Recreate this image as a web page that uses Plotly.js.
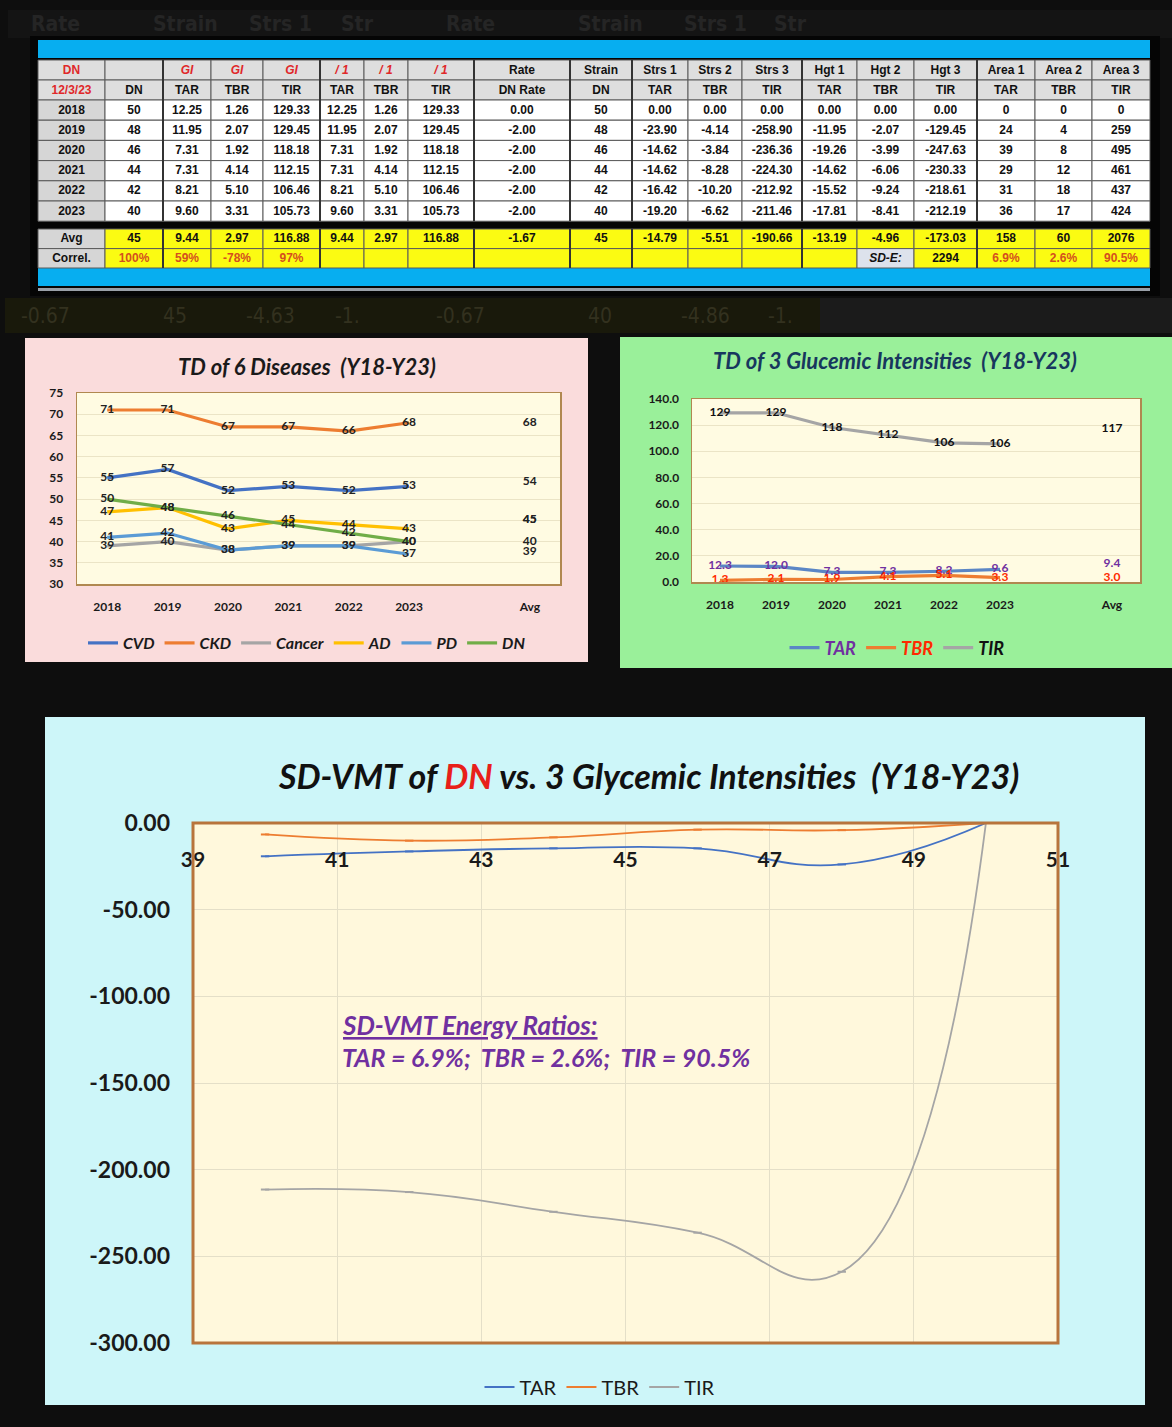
<!DOCTYPE html>
<html>
<head>
<meta charset="utf-8">
<script src="https://cdn.plot.ly/plotly-3.0.1.min.js"></script>
<style>
  html, body { margin: 0; padding: 0; background: #0e0e0e; }
  #chart { width: 1172px; height: 1427px; }
</style>
</head>
<body>
<div id="chart"></div>
<script>
// ---------------- DATA ----------------
const years   = ['2018', '2019', '2020', '2021', '2022', '2023'];
const dnVals  = [50, 48, 46, 44, 42, 40];
const giTAR   = [12.25, 11.95, 7.31, 7.31, 8.21, 9.60];
const giTBR   = [1.26, 2.07, 1.92, 4.14, 5.10, 3.31];
const giTIR   = [129.33, 129.45, 118.18, 112.15, 106.46, 105.73];
const dnRate  = [0.00, -2.00, -2.00, -2.00, -2.00, -2.00];
const strs1   = [0.00, -23.90, -14.62, -14.62, -16.42, -19.20];
const strs2   = [0.00, -4.14, -3.84, -8.28, -10.20, -6.62];
const strs3   = [0.00, -258.90, -236.36, -224.30, -212.92, -211.46];
const hgt1    = [0.00, -11.95, -19.26, -14.62, -15.52, -17.81];
const hgt2    = [0.00, -2.07, -3.99, -6.06, -9.24, -8.41];
const hgt3    = [0.00, -129.45, -247.63, -230.33, -218.61, -212.19];
const area1   = [0, 24, 39, 29, 31, 36];
const area2   = [0, 4, 8, 12, 18, 17];
const area3   = [0, 259, 495, 461, 437, 424];

const headRow1 = ['DN', '', 'GI', 'GI', 'GI', '/ 1', '/ 1', '/ 1', 'Rate', 'Strain', 'Strs 1', 'Strs 2', 'Strs 3', 'Hgt 1', 'Hgt 2', 'Hgt 3', 'Area 1', 'Area 2', 'Area 3'];
const headRow2 = ['12/3/23', 'DN', 'TAR', 'TBR', 'TIR', 'TAR', 'TBR', 'TIR', 'DN Rate', 'DN', 'TAR', 'TBR', 'TIR', 'TAR', 'TBR', 'TIR', 'TAR', 'TBR', 'TIR'];
const avgRow   = ['Avg', '45', '9.44', '2.97', '116.88', '9.44', '2.97', '116.88', '-1.67', '45', '-14.79', '-5.51', '-190.66', '-13.19', '-4.96', '-173.03', '158', '60', '2076'];
const correlRow = ['Correl.', '100%', '59%', '-78%', '97%', '', '', '', '', '', '', '', '', '', 'SD-E:', '2294', '6.9%', '2.6%', '90.5%'];

// Six diseases (TD chart)
const diseaseNames = ['CVD', 'CKD', 'Cancer', 'AD', 'PD', 'DN'];
const cvd    = [55, 57, 52, 53, 52, 53];
const ckd    = [71, 71, 67, 67, 66, 68];
const cancer = [39, 40, 38, 39, 39, 40];
const ad     = [47, 48, 43, 45, 44, 43];
const pd     = [41, 42, 38, 39, 39, 37];
const dnDis  = [50, 48, 46, 44, 42, 40];
const diseaseAvg = [54, 68, 40, 45, 39, 45];

// Glycemic intensities
const glyNames = ['TAR', 'TBR', 'TIR'];
const glyAvg   = [9.44, 2.97, 116.88];

// Energy ratios
const energyRatios = ['6.9%', '2.6%', '90.5%'];

// Bottom chart y tick labels
const vmtYTicks = [0, -50, -100, -150, -200, -250, -300];

// ghost (background screen) labels
const ghostTop = ['Rate', 'Strain', 'Strs 1', 'Str', 'Rate', 'Strain', 'Strs 1', 'Str'];
const ghostMid = ['-0.67', '45', '-4.63', '-1.', '-0.67', '40', '-4.86', '-1.'];

// ---------------- HELPERS ----------------
const W = 1172, H = 1427;
const X = p => p / W;
const Y = p => 1 - p / H;
const CHART_FONT = 'Lato, "Open Sans", sans-serif';
const TABLE_FONT = '"Liberation Sans", Arial, sans-serif';
const GHOST_FONT = '"DejaVu Sans Condensed", "Liberation Sans", sans-serif';

const f2 = v => v.toFixed(2);
const str = v => String(v);
const r1 = v => (Math.round(v * 10 + 1e-9) / 10).toFixed(1);

const traces = [];
const shapes = [];
const ann = [];

const rect = (x0, y0, x1, y1, color) => ({
  type: 'rect', xref: 'paper', yref: 'paper', layer: 'below',
  x0: X(x0), x1: X(x1), y0: Y(y1), y1: Y(y0),
  fillcolor: color, line: { width: 0 }
});

// background / panels
shapes.push(rect(8, 10, 1172, 38, '#141414'));
shapes.push(rect(30, 36, 1160, 296, '#050505'));
shapes.push(rect(38, 40, 1150, 58, '#07aef0'));
shapes.push(rect(38, 268, 1150, 286, '#07aef0'));
shapes.push(rect(38, 288, 1150, 291, '#9aa0a8'));
shapes.push(rect(5, 298, 820, 333, '#19190b'));
shapes.push(rect(820, 298, 1172, 333, '#1b1b1b'));
shapes.push(rect(25, 338, 588, 662, '#fadcdc'));
shapes.push(rect(620, 337, 1172, 668, '#9af09a'));
shapes.push(rect(45, 717, 1145, 1405, '#cdf6f9'));
// plot-area fills
shapes.push(rect(77, 393, 560, 584, '#fffbe2'));
shapes.push(rect(692, 399, 1140, 582, '#fffbe2'));
shapes.push(rect(193, 823, 1058, 1343, '#fff8dc'));

// ---------------- TABLE (drawn on a hidden pixel-scaled axis pair x4/y4) ----------------
const colW = [67, 58, 48, 52, 57, 44, 44, 66, 96, 62, 56, 54, 60, 55, 57, 63, 58, 57, 58];
const colEdges = [38];
colW.forEach(w => colEdges.push(colEdges[colEdges.length - 1] + w));
const rowTop = [60, 80, 100, 120.2, 140.4, 160.6, 180.8, 201, 229, 248.6];
const rowBot = [80, 100, 120.2, 140.4, 160.6, 180.8, 201, 221.2, 248.6, 268];

const dataRows = years.map((yr, i) => [
  yr, str(dnVals[i]), f2(giTAR[i]), f2(giTBR[i]), f2(giTIR[i]),
  f2(giTAR[i]), f2(giTBR[i]), f2(giTIR[i]), f2(dnRate[i]), str(dnVals[i]),
  f2(strs1[i]), f2(strs2[i]), f2(strs3[i]), f2(hgt1[i]), f2(hgt2[i]), f2(hgt3[i]),
  str(area1[i]), str(area2[i]), str(area3[i])
]);
const allRows = [headRow1, headRow2].concat(dataRows, [avgRow, correlRow]);

const RED = '#e0282a', ORG = '#d4501e', YEL = '#fbfb12', GRY = '#d6d6d6', HGR = '#dedede';
function cellFill(r, c) {
  if (r <= 1) return HGR;
  if (c === 0) return GRY;
  if (r <= 7) return '#ffffff';
  if (r === 9 && correlRow[c] === 'SD-E:') return '#dde2ec';
  return YEL;
}
function cellColor(r, c) {
  if (r === 0 && (c === 0 || (c >= 2 && c <= 7))) return RED;
  if (r === 1 && c === 0) return RED;
  if (r === 9 && ((c >= 1 && c <= 4) || c >= 16)) return ORG;
  return '#111111';
}
function cellText(r, c) {
  const t = allRows[r][c];
  if (t === '') return '';
  const it = (r === 0 && c >= 2 && c <= 7) || (r === 9 && t === 'SD-E:');
  return it ? '<i><b>' + t + '</b></i>' : '<b>' + t + '</b>';
}
const tX = [], tY = [], tT = [], tC = [];
allRows.forEach((row, r) => {
  row.forEach((v, c) => {
    shapes.push({
      type: 'rect', xref: 'x4', yref: 'y4', layer: 'below',
      x0: colEdges[c], x1: colEdges[c + 1], y0: rowTop[r], y1: rowBot[r],
      fillcolor: cellFill(r, c), line: { color: '#5a5a5a', width: 1 }
    });
    if (v !== '') {
      tX.push((colEdges[c] + colEdges[c + 1]) / 2);
      tY.push((rowTop[r] + rowBot[r]) / 2 + 0.5);
      tT.push(cellText(r, c));
      tC.push(cellColor(r, c));
    }
  });
});
// thicker group separators
[1, 4, 7, 8, 9, 12, 15].forEach(c => {
  [[60, 221.2], [229, 268]].forEach(([a, b]) => shapes.push({
    type: 'line', xref: 'x4', yref: 'y4', layer: 'below',
    x0: colEdges[c + 1], x1: colEdges[c + 1], y0: a, y1: b,
    line: { color: '#333', width: 2 }
  }));
});
traces.push({
  type: 'scatter', mode: 'text', xaxis: 'x4', yaxis: 'y4', showlegend: false,
  x: tX, y: tY, text: tT, textposition: 'middle center',
  textfont: { family: TABLE_FONT, size: 12, color: tC },
  hoverinfo: 'skip'
});

// ---------------- LEFT CHART: 6 diseases ----------------
const xIdx = years.map((y, i) => i);
const avgIdx = years.length + 1;
const disColors = ['#4472c4', '#ed7d31', '#a5a5a5', '#ffc000', '#5b9bd5', '#70ad47'];
const disData = [cvd, ckd, cancer, ad, pd, dnDis];
disData.forEach((vals, k) => {
  traces.push({
    type: 'scatter', mode: 'lines+text', xaxis: 'x', yaxis: 'y', legend: 'legend',
    name: diseaseNames[k], x: xIdx, y: vals,
    line: { color: disColors[k], width: 3.2 },
    text: vals.map(v => v.toFixed(0)), textposition: 'middle center',
    textfont: { family: CHART_FONT, size: 12, color: '#222', weight: 'bold' },
    hoverinfo: 'skip'
  });
});
traces.push({
  type: 'scatter', mode: 'text', xaxis: 'x', yaxis: 'y', showlegend: false,
  x: diseaseAvg.map(() => avgIdx), y: diseaseAvg,
  text: diseaseAvg.map(String),
  textposition: diseaseAvg.map((v, i) => diseaseNames[i] === 'PD' ? 'bottom center' : 'middle center'),
  textfont: { family: CHART_FONT, size: 12, color: '#222', weight: 'bold' },
  hoverinfo: 'skip'
});

// ---------------- RIGHT CHART: 3 glycemic intensities ----------------
const glyData = [giTAR, giTBR, giTIR];
const glyLine = ['#5b86c5', '#ed7d31', '#a5a5a5'];
const glyText = ['#7030a0', '#ff2a00', '#111111'];
glyData.forEach((vals, k) => {
  traces.push({
    type: 'scatter', mode: 'lines+text', xaxis: 'x2', yaxis: 'y2', legend: 'legend2',
    name: '<span style="color:' + glyText[k] + '">' + glyNames[k] + '</span>',
    x: xIdx, y: vals,
    line: { color: glyLine[k], width: 3.2 },
    text: vals.map(v => k === 2 ? Math.round(v).toString() : r1(v)), textposition: 'middle center',
    textfont: { family: CHART_FONT, size: 12, color: glyText[k], weight: 'bold' },
    hoverinfo: 'skip'
  });
});
traces.push({
  type: 'scatter', mode: 'text', xaxis: 'x2', yaxis: 'y2', showlegend: false,
  x: glyAvg.map(() => avgIdx), y: glyAvg,
  text: glyAvg.map((v, i) => i === 2 ? Math.round(v).toString() : r1(v)),
  textposition: ['top center', 'middle center', 'middle center'],
  textfont: { family: CHART_FONT, size: 12, color: glyText, weight: 'bold' },
  hoverinfo: 'skip'
});

// ---------------- BOTTOM CHART: SD-VMT ----------------
const vmtData = [strs1, strs2, strs3];
const vmtColors = ['#4472c4', '#ed7d31', '#a5a5a5'];
vmtData.forEach((vals, k) => {
  traces.push({
    type: 'scatter', mode: 'lines+markers', xaxis: 'x3', yaxis: 'y3', legend: 'legend3',
    name: glyNames[k], x: dnVals, y: vals,
    line: { color: vmtColors[k], width: 1.8, shape: 'spline', smoothing: 1.3 },
    marker: { symbol: 'line-ew', size: 6, color: vmtColors[k], line: { color: vmtColors[k], width: 2 } },
    hoverinfo: 'skip'
  });
});
// bottom plot border
shapes.push({
  type: 'rect', xref: 'paper', yref: 'paper', layer: 'above',
  x0: X(193), x1: X(1058), y0: Y(1343), y1: Y(823),
  fillcolor: 'rgba(0,0,0,0)', line: { color: '#b8743c', width: 3 }
});

// ---------------- ANNOTATIONS ----------------
const ghostX = [55, 185, 280, 357, 470, 610, 715, 790];
const aTxt = (x, y, text, font, xanchor) => ({
  xref: 'paper', yref: 'paper', x: X(x), y: Y(y), text: text, showarrow: false,
  xanchor: xanchor || 'center', yanchor: 'middle', font: font
});
ghostTop.forEach((t, i) => ann.push(aTxt(ghostX[i], 24, '<b>' + t + '</b>', { family: GHOST_FONT, size: 21, color: '#252525' })));
ghostMid.forEach((t, i) => ann.push(aTxt(ghostX[i] - 10, 316, t, { family: GHOST_FONT, size: 21, color: '#33311f' })));
ann.push(aTxt(307, 366, 'TD of 6 Diseases  (Y18-Y23)', { family: CHART_FONT, size: 22, color: '#1a1a1a', weight: 'bold', style: 'italic' }));
ann.push(aTxt(895, 361, 'TD of 3 Glucemic Intensities  (Y18-Y23)', { family: CHART_FONT, size: 22, color: '#17375e', weight: 'bold', style: 'italic' }));
ann.push(aTxt(648, 775, 'SD-VMT of <span style="color:#e8201a">DN</span> vs. 3 Glycemic Intensities  (Y18-Y23)',
  { family: CHART_FONT, size: 34, color: '#111', weight: 'bold', style: 'italic' }));
ann.push(aTxt(340, 1025, '<u>SD-VMT Energy Ratios:</u>', { family: CHART_FONT, size: 26, color: '#7030a0', weight: 'bold', style: 'italic' }, 'left'));
ann.push(aTxt(340, 1057, glyNames.map((n, i) => n + ' = ' + energyRatios[i]).join(';  '),
  { family: CHART_FONT, size: 25, color: '#7030a0', weight: 'bold', style: 'italic' }, 'left'));

// ---------------- AXES ----------------
const grid = '#ebe4c6';
const border = '#b08850';
const tickF = (s) => ({ family: CHART_FONT, size: s, color: '#1a1a1a', weight: 'bold' });

const layout = {
  width: W, height: H,
  margin: { l: 0, r: 0, t: 0, b: 0 },
  paper_bgcolor: '#0e0e0e',
  plot_bgcolor: 'rgba(0,0,0,0)',
  showlegend: true,
  hovermode: false,
  shapes: shapes,
  annotations: ann,
  xaxis: {
    domain: [X(77), X(560)], anchor: 'y', range: [-0.5, years.length + 1.5],
    tickvals: xIdx.concat([avgIdx]), ticktext: years.concat(['Avg']),
    showgrid: false, zeroline: false, showline: true, mirror: true, linecolor: border, linewidth: 1.5,
    tickfont: tickF(12), ticklabelstandoff: 11, ticks: ''
  },
  yaxis: {
    domain: [Y(584), Y(393)], anchor: 'x', range: [30, 75], dtick: 5,
    showgrid: true, gridcolor: grid, zeroline: false, showline: true, mirror: true, linecolor: border, linewidth: 1.5,
    tickfont: tickF(12), ticklabelstandoff: 10, ticks: ''
  },
  xaxis2: {
    domain: [X(692), X(1140)], anchor: 'y2', range: [-0.5, years.length + 1.5],
    tickvals: xIdx.concat([avgIdx]), ticktext: years.concat(['Avg']),
    showgrid: false, zeroline: false, showline: true, mirror: true, linecolor: border, linewidth: 1.5,
    tickfont: tickF(12), ticklabelstandoff: 11, ticks: ''
  },
  yaxis2: {
    domain: [Y(582), Y(399)], anchor: 'x2', range: [0, 140], dtick: 20, tickformat: '.1f',
    showgrid: true, gridcolor: grid, zeroline: false, showline: true, mirror: true, linecolor: border, linewidth: 1.5,
    tickfont: tickF(12), ticklabelstandoff: 9, ticks: ''
  },
  xaxis3: {
    domain: [X(193), X(1058)], anchor: 'free', position: Y(845), range: [39, 51], tick0: 39, dtick: 2,
    showgrid: true, gridcolor: '#e4dfc8', zeroline: false, showline: false,
    tickfont: tickF(21), ticks: ''
  },
  yaxis3: {
    domain: [Y(1343), Y(823)], anchor: 'x3', range: [-300, 0],
    tickvals: vmtYTicks, ticktext: vmtYTicks.map(f2),
    showgrid: true, gridcolor: '#e4dfc8', zeroline: false, showline: false,
    tickfont: tickF(23), ticklabelstandoff: 22, ticks: ''
  },
  xaxis4: { domain: [0, 1], anchor: 'y4', range: [0, W], visible: false, fixedrange: true },
  yaxis4: { domain: [0, 1], anchor: 'x4', range: [H, 0], visible: false, fixedrange: true },
  legend: {
    orientation: 'h', x: X(307), xanchor: 'center', y: Y(643), yanchor: 'middle',
    bgcolor: 'rgba(0,0,0,0)', itemwidth: 30, tracegroupgap: 0,
    font: { family: CHART_FONT, size: 16, color: '#1a1a1a', weight: 'bold', style: 'italic' }
  },
  legend2: {
    orientation: 'h', x: X(897), xanchor: 'center', y: Y(648), yanchor: 'middle',
    bgcolor: 'rgba(0,0,0,0)', itemwidth: 30,
    font: { family: CHART_FONT, size: 18, color: '#111', weight: 'bold', style: 'italic' }
  },
  legend3: {
    orientation: 'h', x: X(600), xanchor: 'center', y: Y(1387), yanchor: 'middle',
    bgcolor: 'rgba(0,0,0,0)', itemwidth: 30,
    font: { family: CHART_FONT, size: 20, color: '#1a1a1a' }
  }
};

Plotly.newPlot('chart', traces, layout, { displayModeBar: false, staticPlot: true });
</script>
</body>
</html>
